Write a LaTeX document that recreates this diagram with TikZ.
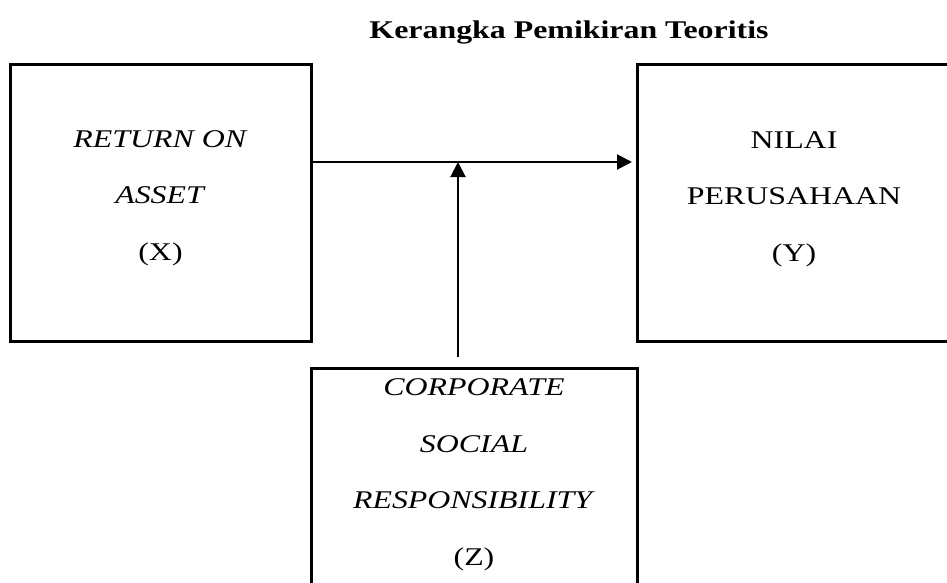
\documentclass[tikz,border=0pt]{standalone}
\usepackage{fontspec}
\setmainfont{Liberation Serif}[FakeStretch=1.25]
\usetikzlibrary{arrows.meta}
\newlength{\du}
\setlength{\du}{1pt}

\begin{document}
\begin{tikzpicture}[
  varbox/.style={draw=black, line width=3\du, inner sep=0pt},
  vartext/.style={anchor=north, inner sep=0pt, align=center, font=\fontsize{25.5}{56.5}\selectfont},
  arr/.style={line width=2\du, -{Triangle[length=15pt,width=15pt]}}
]
\useasboundingbox (0\du,0\du) rectangle (947\du,-583\du);
% title
\node[anchor=base, font=\fontsize{25.5}{30}\selectfont\bfseries] (title) at (569\du,-39\du) {Kerangka Pemikiran Teoritis};
% boxes
\node[varbox, minimum width=301\du, minimum height=276\du] (roa) at (160.5\du,-203\du) {};
\node[varbox, minimum width=314\du, minimum height=276\du] (nilai) at (794\du,-203\du) {};
\node[varbox, minimum width=326\du, minimum height=260\du, anchor=north] (csr) at (474\du,-367\du) {};
% texts
\node[vartext] (roatext) at (160.5\du,-130\du) {\textit{RETURN ON}\\\textit{ASSET}\\(X)};
\node[vartext] (nilaitext) at (794\du,-131\du) {NILAI\\PERUSAHAAN\\(Y)};
\node[vartext] (csrtext) at (474\du,-378.5\du) {\textit{CORPORATE}\\\textit{SOCIAL}\\\textit{RESPONSIBILITY}\\(Z)};
% arrows
\coordinate (mid) at (458\du,-162\du);
\coordinate (tip) at (632\du,-162\du);
\draw[arr] (roa.east |- mid) -- (tip);
\draw[arr] ([yshift=10pt]csr.north -| mid) -- (mid);
\end{tikzpicture}
\end{document}
